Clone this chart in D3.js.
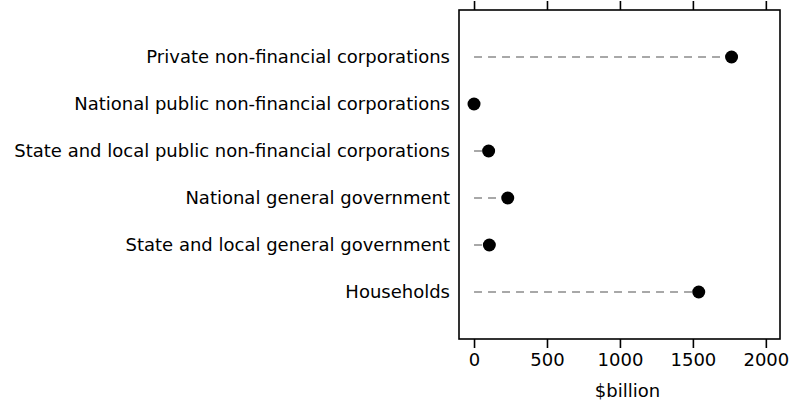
<!DOCTYPE html>
<html><head><meta charset="utf-8">
<script src="https://cdn.jsdelivr.net/npm/d3@7"></script>
<style>body{margin:0;background:#fff}text{font-family:"DejaVu Sans",sans-serif;fill:#000}</style>
</head><body><svg id="c" width="796" height="405"></svg>
<script>
const categories = ["Private non-financial corporations","National public non-financial corporations","State and local public non-financial corporations","National general government","State and local general government","Households"];
const values = [1765, 0, 100, 231, 105, 1540];
const xTicks = [0, 500, 1000, 1500, 2000];
const xTitle = "$billion";

const FONT = '"DejaVu Sans",sans-serif';
const svg = d3.select("#c");
const L = 459, R = 780, T = 10, B = 339;
const x = d3.scaleLinear().domain([-103, 2097]).range([L, R]);
const y = d3.scalePoint().domain(categories).range([T, B]).padding(1);

svg.append("rect").attr("x", L).attr("y", T).attr("width", R - L).attr("height", B - T)
  .attr("fill", "none").attr("stroke", "#000").attr("stroke-width", 1.6);

const gB = svg.append("g").attr("transform", `translate(0,${B})`)
  .call(d3.axisBottom(x).tickValues(xTicks).tickSize(9).tickPadding(5).tickFormat(d3.format("d")));
gB.select(".domain").remove();
gB.selectAll("line").attr("stroke-width", 1.6);
gB.selectAll("text").attr("font-size", 18).style("font-family", FONT);

const gT = svg.append("g").attr("transform", `translate(0,${T})`)
  .call(d3.axisTop(x).tickValues(xTicks).tickSize(9).tickFormat(""));
gT.select(".domain").remove();
gT.selectAll("line").attr("stroke-width", 1.6);

svg.append("text").attr("x", (L + R) / 2 + 8).attr("y", 397).attr("text-anchor", "middle")
  .attr("font-size", 18).text(xTitle);

categories.forEach((c, i) => {
  svg.append("text").attr("x", 450).attr("y", y(c)).attr("dy", "0.35em")
    .attr("text-anchor", "end").attr("font-size", 18).text(c);
  svg.append("line").attr("x1", x(0)).attr("x2", x(values[i])).attr("y1", y(c)).attr("y2", y(c))
    .attr("stroke", "#8c8c8c").attr("stroke-width", 1.5).attr("stroke-dasharray", "8,6");
  svg.append("circle").attr("cx", x(values[i])).attr("cy", y(c)).attr("r", 6.5).attr("fill", "#000");
});
</script></body></html>
